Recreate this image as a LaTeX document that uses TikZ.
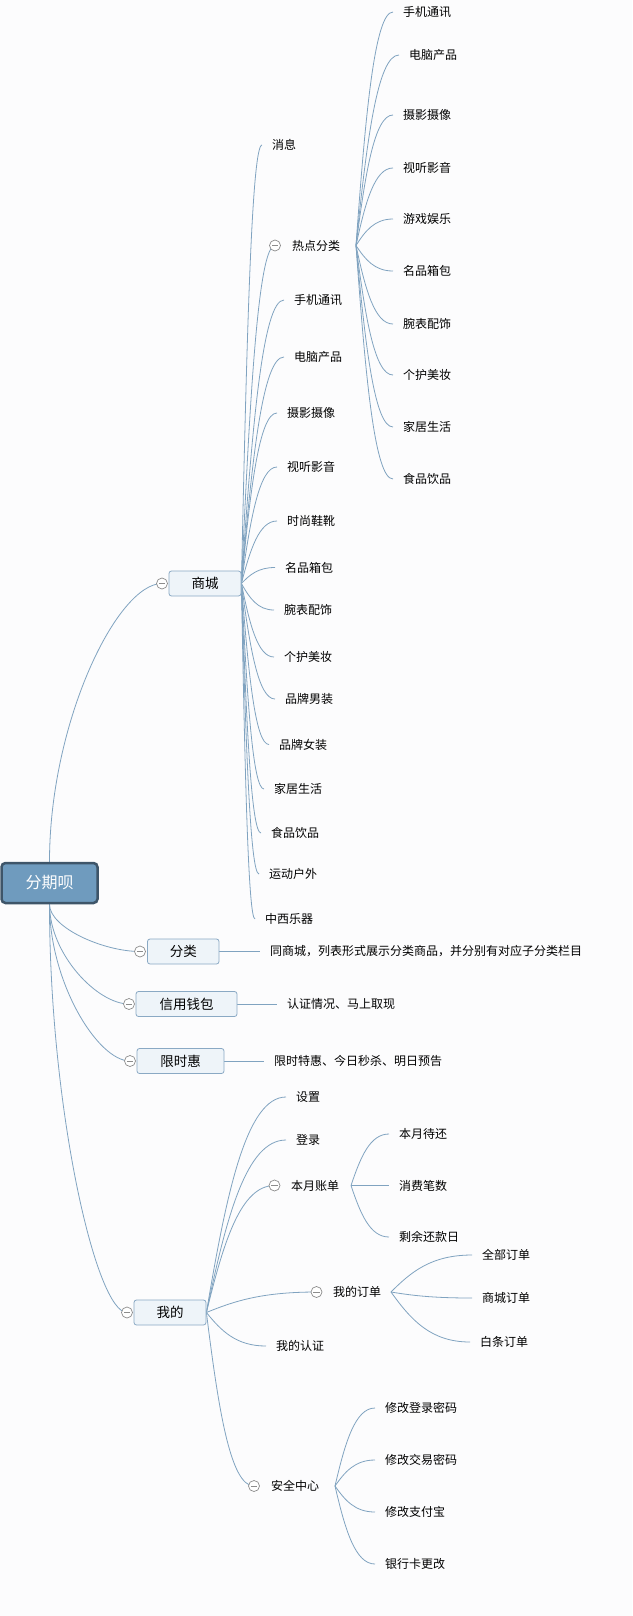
\documentclass[tikz,border=0pt]{standalone}
\usepackage{fontspec}
\setmainfont{Noto Sans CJK SC}
\usetikzlibrary{calc,backgrounds}
\definecolor{linkc}{RGB}{128,163,192}
\definecolor{boxf}{RGB}{238,244,249}
\definecolor{boxd}{RGB}{138,169,196}
\definecolor{rootf}{RGB}{111,155,190}
\definecolor{rootd}{RGB}{62,85,105}
\definecolor{foldc}{RGB}{140,140,140}
\definecolor{bgc}{RGB}{252,252,253}
\newcommand\rootlink[2]{\draw[link] let \p1=(#1), \p2=(#2) in (\p1) .. controls ({\x1},{\y1+0.5*(\y2-\y1)}) and ({\x1+0.6*(\x2-\x1)},{\y2}) .. (\p2);}
\newcommand\sublink[2]{\draw[link] let \p1=(#1), \p2=(#2) in (\p1) .. controls ({\x1+0.25*(\x2-\x1)},{\y1+0.55*(\y2-\y1)}) and ({\x1+0.5*(\x2-\x1)},{\y2}) .. (\p2);}
\begin{document}
\begin{tikzpicture}[x=1pt,y=-1pt,
  link/.style={draw=linkc,line width=0.8pt},
  leaf/.style={anchor=west,inner xsep=10pt,inner ysep=1pt,font=\fontsize{12}{14}\selectfont},
  topic/.style={draw=boxd,fill=boxf,rounded corners=2.5pt,line width=0.8pt,minimum height=25pt,inner sep=0pt,font=\fontsize{13.5}{16}\selectfont},
  rootbox/.style={draw=rootd,fill=rootf,rounded corners=4pt,line width=2.5pt,minimum width=96pt,minimum height=40pt,inner sep=0pt,text=white,font=\fontsize{16}{19}\selectfont},
  fold/.style={circle,draw=foldc,fill=white,minimum size=11pt,inner sep=0pt,line width=0.7pt,
    path picture={\draw[foldc,line width=0.7pt] ([xshift=-3.2pt]path picture bounding box.center) -- ([xshift=3.2pt]path picture bounding box.center);}},
]
\useasboundingbox (0,0) rectangle (632,1616);
% root
\node[rootbox] (root) at (49.5,883) {分期呗};
% main topics
\node[topic,minimum width=72pt] (sc) at (205,583.5) {商城};
\node[topic,minimum width=71.5pt] (fl) at (183.25,951.5) {分类};
\node[topic,minimum width=101pt] (qb) at (186.5,1004) {信用钱包};
\node[topic,minimum width=87pt] (xs) at (180.5,1061) {限时惠};
\node[topic,minimum width=72pt] (wd) at (170,1312.5) {我的};
% fold markers
\node[fold] (fsc) at (162,583.5) {};
\node[fold] (ffl) at (140,951.5) {};
\node[fold] (fqb) at (129,1004) {};
\node[fold] (fxs) at (130,1061) {};
\node[fold] (fwd) at (127,1312.5) {};
\node[fold] (frd) at (275,245.5) {};
\node[fold] (fzd) at (274.5,1185.5) {};
\node[fold] (fdd) at (316.5,1292) {};
\node[fold] (faq) at (254,1486) {};
% descriptions
\node[leaf] (dfl) at (260,951.5) {同商城，列表形式展示分类商品，并分别有对应子分类栏目};
\node[leaf] (dqb) at (277,1004) {认证情况、马上取现};
\node[leaf] (dxs) at (264,1061) {限时特惠、今日秒杀、明日预告};
% 商城 children
\node[leaf] (s0) at (262,145) {消息};
\node[leaf] (rd) at (282,245.5) {热点分类};
\coordinate (rdo) at (356,245.5);
\node[leaf] (s1) at (284,300) {手机通讯};
\node[leaf] (s2) at (284,357) {电脑产品};
\node[leaf] (s3) at (277,413) {摄影摄像};
\node[leaf] (s4) at (277,467) {视听影音};
\node[leaf] (s5) at (277,521) {时尚鞋靴};
\node[leaf] (s6) at (275,567.5) {名品箱包};
\node[leaf] (s7) at (274,610) {腕表配饰};
\node[leaf] (s8) at (274,657) {个护美妆};
\node[leaf] (s9) at (275,699) {品牌男装};
\node[leaf] (s10) at (269,744.5) {品牌女装};
\node[leaf] (s11) at (264,789) {家居生活};
\node[leaf] (s12) at (261,833) {食品饮品};
\node[leaf] (s13) at (259,874) {运动户外};
\node[leaf] (s14) at (255,919) {中西乐器};
% 热点分类 children
\node[leaf] (h1) at (393,12) {手机通讯};
\node[leaf] (h2) at (399,55) {电脑产品};
\node[leaf] (h3) at (393,115) {摄影摄像};
\node[leaf] (h4) at (393,168) {视听影音};
\node[leaf] (h5) at (393,219) {游戏娱乐};
\node[leaf] (h6) at (393,271) {名品箱包};
\node[leaf] (h7) at (393,324) {腕表配饰};
\node[leaf] (h8) at (393,375) {个护美妆};
\node[leaf] (h9) at (393,427) {家居生活};
\node[leaf] (h10) at (393,479) {食品饮品};
% 我的 children
\node[leaf] (w1) at (286,1097) {设置};
\node[leaf] (w2) at (286,1140) {登录};
\node[leaf] (zd) at (281,1185.5) {本月账单};
\coordinate (zdo) at (351,1185.5);
\node[leaf] (dd) at (323,1292) {我的订单};
\coordinate (ddo) at (391,1292);
\node[leaf] (w5) at (266,1346) {我的认证};
\node[leaf] (aq) at (261,1486) {安全中心};
\coordinate (aqo) at (335,1486);
% 本月账单 children
\node[leaf] (z1) at (389,1134) {本月待还};
\node[leaf] (z2) at (389,1185.5) {消费笔数};
\node[leaf] (z3) at (389,1237) {剩余还款日};
% 我的订单 children
\node[leaf] (o1) at (472,1255) {全部订单};
\node[leaf] (o2) at (472,1298) {商城订单};
\node[leaf] (o3) at (470,1342) {白条订单};
% 安全中心 children
\node[leaf] (a1) at (375,1408) {修改登录密码};
\node[leaf] (a2) at (375,1460) {修改交易密码};
\node[leaf] (a3) at (375,1512) {修改支付宝};
\node[leaf] (a4) at (375,1564) {银行卡更改};

\begin{scope}[on background layer]
\fill[bgc] (0,0) rectangle (632,1616);
% root branches
\rootlink{root.north}{fsc}
\rootlink{root.south}{ffl}
\rootlink{root.south}{fqb}
\rootlink{root.south}{fxs}
\rootlink{root.south}{fwd}
% descriptions
\draw[link] (fl.east) -- (dfl.west);
\draw[link] (qb.east) -- (dqb.west);
\draw[link] (xs.east) -- (dxs.west);
% 商城
\foreach \q in {s0,s1,s2,s3,s4,s5,s6,s7,s8,s9,s10,s11,s12,s13,s14}{\sublink{sc.east}{\q.west}}
\sublink{sc.east}{frd}
\foreach \q in {h1,h2,h3,h4,h5,h6,h7,h8,h9,h10}{\sublink{rdo}{\q.west}}
% 我的
\foreach \q in {w1,w2,w5}{\sublink{wd.east}{\q.west}}
\sublink{wd.east}{fzd}
\sublink{wd.east}{fdd}
\sublink{wd.east}{faq}
\foreach \q in {z1,z2,z3}{\sublink{zdo}{\q.west}}
\foreach \q in {o1,o2,o3}{\sublink{ddo}{\q.west}}
\foreach \q in {a1,a2,a3,a4}{\sublink{aqo}{\q.west}}
\end{scope}
\end{tikzpicture}
\end{document}
